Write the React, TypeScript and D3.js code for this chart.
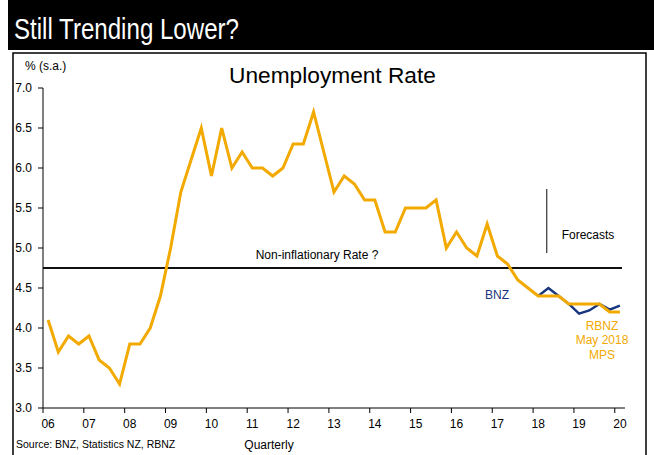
import React from "react";
import * as d3 from "d3";

const years = ["06","07","08","09","10","11","12","13","14","15","16","17","18","19","20"];
const quarters = [
  "2006Q1","2006Q2","2006Q3","2006Q4","2007Q1","2007Q2","2007Q3","2007Q4",
  "2008Q1","2008Q2","2008Q3","2008Q4","2009Q1","2009Q2","2009Q3","2009Q4",
  "2010Q1","2010Q2","2010Q3","2010Q4","2011Q1","2011Q2","2011Q3","2011Q4",
  "2012Q1","2012Q2","2012Q3","2012Q4","2013Q1","2013Q2","2013Q3","2013Q4",
  "2014Q1","2014Q2","2014Q3","2014Q4","2015Q1","2015Q2","2015Q3","2015Q4",
  "2016Q1","2016Q2","2016Q3","2016Q4","2017Q1","2017Q2","2017Q3","2017Q4",
  "2018Q1","2018Q2","2018Q3","2018Q4","2019Q1","2019Q2","2019Q3","2019Q4",
  "2020Q1"
];
// Actual + RBNZ May 2018 MPS forecast (from 2018Q2)
const rbnzSeries = [
  4.1,3.7,3.9,3.8, 3.9,3.6,3.5,3.3,
  3.8,3.8,4.0,4.4, 5.0,5.7,6.1,6.5,
  5.9,6.5,6.0,6.2, 6.0,6.0,5.9,6.0,
  6.3,6.3,6.7,6.2, 5.7,5.9,5.8,5.6,
  5.6,5.2,5.2,5.5, 5.5,5.5,5.6,5.0,
  5.2,5.0,4.9,5.3, 4.9,4.8,4.6,4.5,
  4.4,4.4,4.4,4.3, 4.3,4.3,4.3,4.2,
  4.2
];
// BNZ forecast, starting at 2018Q1 (last actual)
const bnzQuarters = ["2018Q1","2018Q2","2018Q3","2018Q4","2019Q1","2019Q2","2019Q3","2019Q4","2020Q1"];
const bnzSeries = [4.4,4.5,4.4,4.3,4.18,4.22,4.3,4.23,4.28];
const yTicks = [3.0,3.5,4.0,4.5,5.0,5.5,6.0,6.5,7.0];
const nairu = 4.75;

const FONT = "'Liberation Sans', Arial, Helvetica, sans-serif";
const ORANGE = "#F2A900";
const NAVY = "#17367E";

export default function App() {
  const x = d3.scaleBand<string>().domain(quarters).range([43, 625]).padding(0);
  const bw = x.bandwidth();
  const cx = (q: string) => (x(q) as number) + bw / 2;
  const y = d3.scaleLinear().domain([3, 7]).range([408, 88]);

  const line = d3.line<[string, number]>().x(d => cx(d[0])).y(d => y(d[1]));
  const rbnzPath = line(quarters.map((q, i) => [q, rbnzSeries[i]] as [string, number])) || "";
  const bnzPath = line(bnzQuarters.map((q, i) => [q, bnzSeries[i]] as [string, number])) || "";

  const yearQs = years.map(yy => "20" + yy + "Q1");

  return (
    <svg width={654} height={455} style={{ position: "absolute", left: 0, top: 0, background: "#fff" }} fontFamily={FONT}>
      <rect x={8} y={0} width={646} height={50} fill="#000" />
      <text x={14} y={39} fill="#fff" fontSize={29} textLength={225} lengthAdjust="spacingAndGlyphs">Still Trending Lower?</text>
      <rect x={13} y={53} width={633} height={420} fill="none" stroke="#000" strokeWidth={1.5} />

      <text x={332.5} y={83} textAnchor="middle" fontSize={22.7} fill="#000">Unemployment Rate</text>
      <text x={25} y={70} fontSize={12} fill="#000">% (s.a.)</text>

      {/* y axis */}
      <line x1={43} x2={43} y1={88} y2={408} stroke="#000" strokeWidth={1} />
      {yTicks.map(t => (
        <g key={t}>
          <line x1={38} x2={43} y1={y(t)} y2={y(t)} stroke="#000" strokeWidth={1} />
          <text x={32} y={y(t) + 4.3} textAnchor="end" fontSize={12} fill="#000">{d3.format(".1f")(t)}</text>
        </g>
      ))}

      {/* x axis */}
      <line x1={43} x2={625} y1={408} y2={408} stroke="#000" strokeWidth={1} />
      {yearQs.map((q, i) => (
        <g key={q}>
          <line x1={x(q) as number} x2={x(q) as number} y1={408} y2={413} stroke="#000" strokeWidth={1} />
          <text x={cx(q)} y={427.5} textAnchor="middle" fontSize={12} fill="#000">{years[i]}</text>
        </g>
      ))}
      <text x={269} y={449} textAnchor="middle" fontSize={12} fill="#000">Quarterly</text>
      <text x={16} y={448} fontSize={10.5} fill="#000">Source: BNZ, Statistics NZ, RBNZ</text>

      {/* non-inflationary rate */}
      <line x1={43} x2={622} y1={y(nairu)} y2={y(nairu)} stroke="#111" strokeWidth={1.8} />
      <text x={317} y={259} textAnchor="middle" fontSize={12} fill="#000">Non-inflationary Rate ?</text>

      {/* forecasts marker */}
      <line x1={546.7} x2={546.7} y1={189} y2={253} stroke="#444" strokeWidth={1.3} />
      <text x={588} y={239} textAnchor="middle" fontSize={12} fill="#000">Forecasts</text>

      {/* series */}
      <path d={bnzPath} fill="none" stroke={NAVY} strokeWidth={2.4} strokeLinejoin="miter" />
      <path d={rbnzPath} fill="none" stroke={ORANGE} strokeWidth={3} strokeLinejoin="miter" />

      <text x={497} y={299} textAnchor="middle" fontSize={12} fill={NAVY}>BNZ</text>
      <text x={602} y={329.5} textAnchor="middle" fontSize={12} fill={ORANGE}>RBNZ</text>
      <text x={602} y={344} textAnchor="middle" fontSize={12} fill={ORANGE}>May 2018</text>
      <text x={602} y={358.5} textAnchor="middle" fontSize={12} fill={ORANGE}>MPS</text>
    </svg>
  );
}
